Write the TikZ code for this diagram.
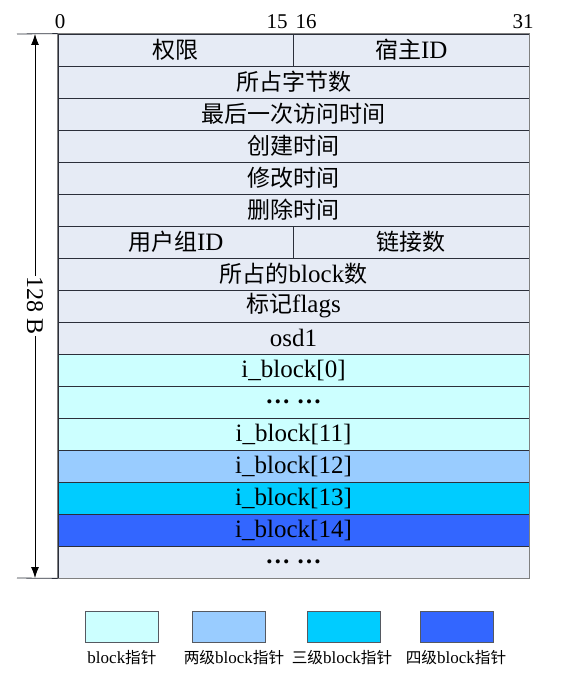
\documentclass[tikz,border=0pt]{standalone}
\usepackage{fontspec}
\usepackage{tikz}
\usetikzlibrary{arrows.meta}
\setmainfont{Liberation Serif}
\newfontfamily\cjk[Scale=0.92]{Noto Sans CJK SC}
\definecolor{rowbg}{HTML}{E6EBF5}
\definecolor{ptr1}{HTML}{CCFFFF}
\definecolor{ptr2}{HTML}{99CCFF}
\definecolor{ptr3}{HTML}{00CCFF}
\definecolor{ptr4}{HTML}{3366FF}
\definecolor{edge}{HTML}{2B2F3A}

\begin{document}
\begin{tikzpicture}[x=1pt,y=-1pt,
	cell/.style={draw=edge,line width=0.8pt,fill=rowbg,inner sep=0pt,
		minimum width=471pt,minimum height=32pt,font=\fontsize{25}{26}\selectfont},
	half/.style={cell,minimum width=235.5pt},
	bitnum/.style={font=\fontsize{21}{22}\selectfont,inner sep=0pt},
	legendbox/.style={draw=edge!80,line width=1pt,minimum width=73pt,minimum height=31pt,inner sep=0pt},
	legendtext/.style={font=\fontsize{17}{18}\selectfont,inner sep=0pt}]
	\useasboundingbox (0,0) rectangle (573,674);

	% bit numbers
	\node[bitnum] (bit-0) at (60,22) {0};
	\node[bitnum] (bit-15) at (277,22) {15};
	\node[bitnum] (bit-16) at (306,22) {16};
	\node[bitnum] (bit-31) at (523,22) {31};

	% inode fields
	\node[half] (perm) at (175.75,50) {\cjk 权限};
	\node[half] (host-id) at (411.25,50) {{\cjk 宿主}ID};
	\node[cell] (bytes) at (293.5,82) {\cjk 所占字节数};
	\node[cell] (atime) at (293.5,114) {\cjk 最后一次访问时间};
	\node[cell] (ctime) at (293.5,146) {\cjk 创建时间};
	\node[cell] (mtime) at (293.5,178) {\cjk 修改时间};
	\node[cell] (dtime) at (293.5,210) {\cjk 删除时间};
	\node[half] (group-id) at (175.75,242) {{\cjk 用户组}ID};
	\node[half] (links) at (411.25,242) {\cjk 链接数};
	\node[cell] (blocks) at (293.5,274) {{\cjk 所占的}block{\cjk 数}};
	\node[cell] (flags) at (293.5,306) {{\cjk 标记}flags};
	\node[cell] (osd1) at (293.5,338) {osd1};
	\node[cell,fill=ptr1] (block-0) at (293.5,370) {i\_block[0]};
	\node[cell,fill=ptr1] (block-dots) at (293.5,402) {\bfseries …\ …};
	\node[cell,fill=ptr1] (block-11) at (293.5,434) {i\_block[11]};
	\node[cell,fill=ptr2] (block-12) at (293.5,466) {i\_block[12]};
	\node[cell,fill=ptr3] (block-13) at (293.5,498) {i\_block[13]};
	\node[cell,fill=ptr4] (block-14) at (293.5,530) {i\_block[14]};
	\node[cell] (rest-dots) at (293.5,562) {\bfseries …\ …};
	\draw[gray,line width=1pt] (perm.north west) rectangle (rest-dots.south east);

	% size arrow
	\coordinate (top-end) at (17,34);
	\coordinate (bottom-end) at (17,578);
	\coordinate (arrow-top) at (35,34);
	\coordinate (arrow-bottom) at (35,578);
	\draw[edge,line width=0.8pt] (top-end) -- (perm.north west);
	\draw[edge,line width=0.8pt] (bottom-end) -- (rest-dots.south west);
	\node[rotate=-90,fill=white,inner sep=1pt,font=\fontsize{24}{26}\selectfont] (size) at (35,306) {128 B};
	\draw[-{Latex[length=11pt,width=8pt]},line width=0.8pt] (size) -- (arrow-top);
	\draw[-{Latex[length=11pt,width=8pt]},line width=0.8pt] (size) -- (arrow-bottom);

	% legend
	\node[legendbox,fill=ptr1] (key-1) at (122,627) {};
	\node[legendbox,fill=ptr2] (key-2) at (229,627) {};
	\node[legendbox,fill=ptr3] (key-3) at (344,627) {};
	\node[legendbox,fill=ptr4] (key-4) at (457,627) {};
	\node[legendtext] (key-1-text) at (122,658) {block{\cjk 指针}};
	\node[legendtext] (key-2-text) at (234,658) {{\cjk 两级}block{\cjk 指针}};
	\node[legendtext] (key-3-text) at (342,658) {{\cjk 三级}block{\cjk 指针}};
	\node[legendtext] (key-4-text) at (456,658) {{\cjk 四级}block{\cjk 指针}};
\end{tikzpicture}
\end{document}
